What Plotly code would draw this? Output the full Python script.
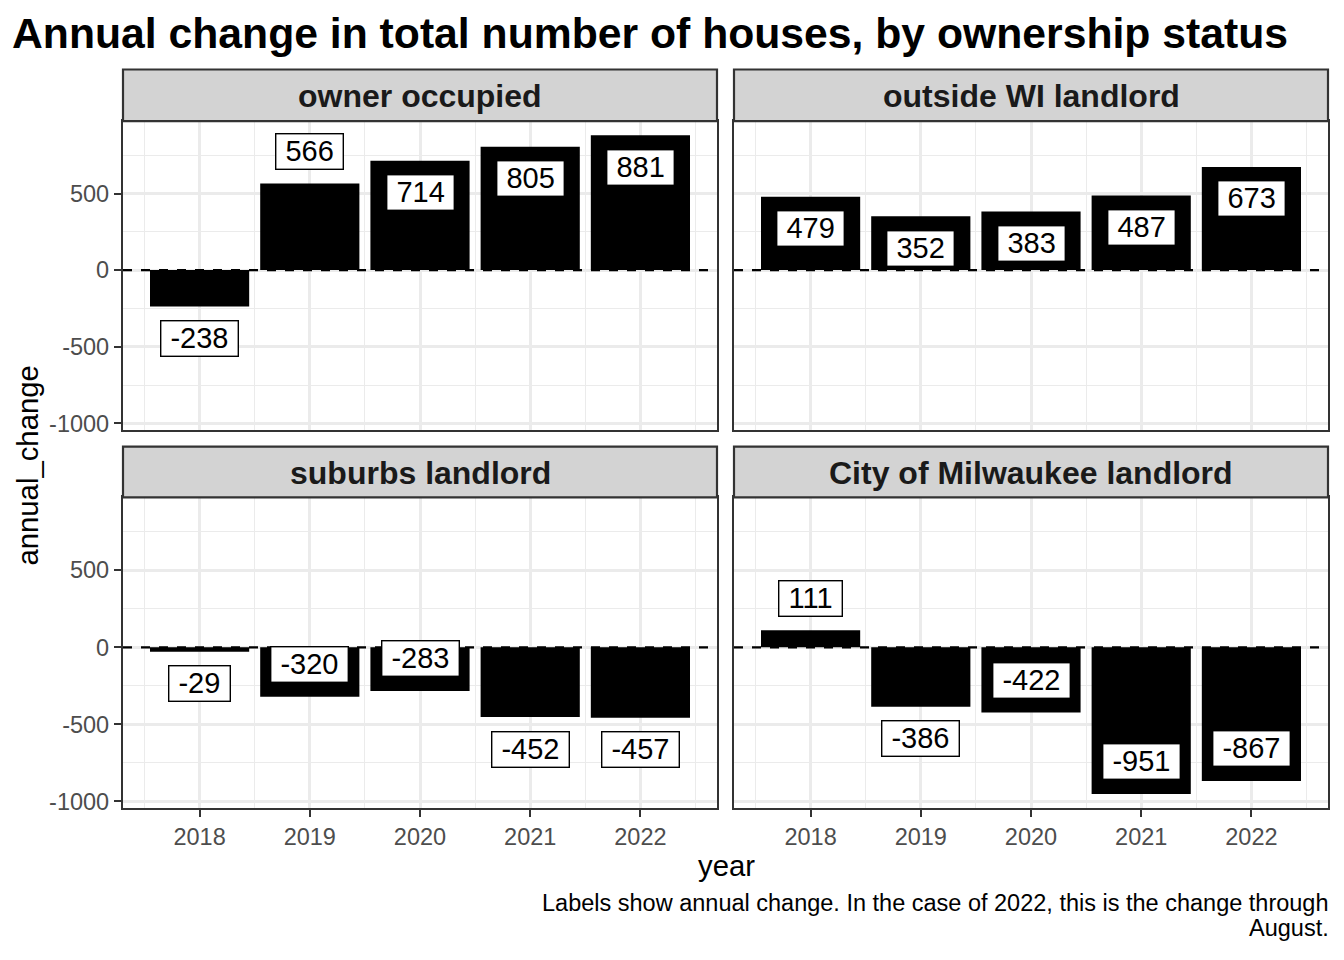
import plotly.graph_objects as go

years = [2018, 2019, 2020, 2021, 2022]
panels = ["owner occupied", "outside WI landlord", "suburbs landlord", "City of Milwaukee landlord"]
owner_occupied = [-238, 566, 714, 805, 881]
outside_wi = [479, 352, 383, 487, 673]
suburbs = [-29, -320, -283, -452, -457]
city_mke = [111, -386, -422, -951, -867]
y_tick_vals = [-1000, -500, 0, 500]
y_tick_text = ["-1000", "-500", "0", "500"]
# +1: label placed outside the bar (away from zero); -1: inside the bar
label_side_owner = [1, 1, -1, -1, -1]
label_side_outside = [-1, -1, -1, -1, -1]
label_side_suburbs = [1, -1, -1, 1, 1]
label_side_city = [1, 1, -1, -1, -1]

series = [owner_occupied, outside_wi, suburbs, city_mke]
sides = [label_side_owner, label_side_outside, label_side_suburbs, label_side_city]

W, H = 1344, 960
FONT = "Liberation Sans, Arial, Helvetica, sans-serif"

def px(x):
    return x / W

def py(y):
    return 1 - y / H

cols = [(123, 717), (734, 1328)]
rows = [(70, 122, 433), (450, 501, 814)]

fig = go.Figure()
annotations = []
shapes = []

xrange_ = [2017.305, 2022.695]
yrange_ = [-1042.6, 972.6]
offset = 208

for i, (name, vals, side) in enumerate(zip(panels, series, sides)):
    r, c = divmod(i, 2)
    x0, x1 = cols[c]
    st, pt, pb = rows[r]
    n = i + 1
    xa = "x" if n == 1 else f"x{n}"
    ya = "y" if n == 1 else f"y{n}"
    fig.add_trace(go.Bar(x=years, y=vals, width=0.9, marker=dict(color="black", line=dict(width=0)),
                         xaxis=xa, yaxis=ya, showlegend=False, hoverinfo="skip"))
    show_x = r == 1
    show_y = c == 0
    fig.layout[f"xaxis{'' if n == 1 else n}"] = dict(
        domain=[px(x0), px(x1)], anchor=ya, range=xrange_, tickvals=years, ticktext=[str(y) for y in years],
        showticklabels=show_x, ticks="outside" if show_x else "", ticklen=7, tickwidth=2.2, tickcolor="#333333",
        tickfont=dict(size=23.5, color="#4D4D4D", family=FONT),
        showgrid=True, gridcolor="#EBEBEB", gridwidth=2.6,
        minor=dict(dtick=0.5, tick0=2017.5, showgrid=True, gridcolor="#EBEBEB", gridwidth=1.3),
        showline=True, mirror=True, linecolor="#333333", linewidth=2.2, zeroline=False, fixedrange=True)
    fig.layout[f"yaxis{'' if n == 1 else n}"] = dict(
        domain=[py(pb), py(pt)], anchor=xa, range=yrange_, tickvals=y_tick_vals, ticktext=y_tick_text,
        showticklabels=show_y, ticks="outside" if show_y else "", ticklen=7, tickwidth=2.2, tickcolor="#333333",
        tickfont=dict(size=23.5, color="#4D4D4D", family=FONT),
        showgrid=True, gridcolor="#EBEBEB", gridwidth=2.6,
        minor=dict(dtick=250, showgrid=True, gridcolor="#EBEBEB", gridwidth=1.3),
        showline=True, mirror=True, linecolor="#333333", linewidth=2.2, zeroline=False, fixedrange=True)
    shapes.append(dict(type="rect", xref="paper", yref="paper", x0=px(x0), x1=px(x1), y0=py(pt), y1=py(st),
                       fillcolor="#D3D3D3", line=dict(color="#333333", width=2.2), layer="above"))
    annotations.append(dict(text=f"<b>{name}</b>", xref="paper", yref="paper", x=px((x0 + x1) / 2),
                            y=py((st + pt) / 2 + 1), showarrow=False, xanchor="center", yanchor="middle",
                            font=dict(size=32, color="#1A1A1A", family=FONT)))
    shapes.append(dict(type="line", xref=f"{xa} domain", yref=ya, x0=0, x1=1, y0=0, y1=0,
                       line=dict(color="black", width=2.2, dash="dash"), layer="above"))
    for yr, v, s in zip(years, vals, side):
        sign = 1 if v >= 0 else -1
        annotations.append(dict(text="\u00a0" + str(v) + "\u00a0", xref=xa, yref=ya, x=yr, y=v + s * sign * offset,
                                showarrow=False, xanchor="center", yanchor="middle",
                                font=dict(size=29, color="black", family=FONT),
                                bgcolor="white", bordercolor="black", borderwidth=1.4, borderpad=1))

annotations.append(dict(text="<b>Annual change in total number of houses, by ownership status</b>",
                        xref="paper", yref="paper", x=px(10), y=py(33), xanchor="left", yanchor="middle",
                        showarrow=False, font=dict(size=42.7, color="black", family=FONT)))
annotations.append(dict(text="annual_change", xref="paper", yref="paper", x=px(28), y=py(469),
                        textangle=-90, xanchor="center", yanchor="middle", showarrow=False,
                        font=dict(size=29.3, color="black", family=FONT)))
annotations.append(dict(text="year", xref="paper", yref="paper", x=px(726), y=py(872),
                        xanchor="center", yanchor="middle", showarrow=False,
                        font=dict(size=29.3, color="black", family=FONT)))
annotations.append(dict(text="Labels show annual change. In the case of 2022, this is the change through",
                        xref="paper", yref="paper", x=px(1331), y=py(910), xanchor="right", yanchor="middle",
                        align="right", showarrow=False,
                        font=dict(size=23.5, color="black", family=FONT)))
annotations.append(dict(text="August.",
                        xref="paper", yref="paper", x=px(1331), y=py(935), xanchor="right", yanchor="middle",
                        align="right", showarrow=False,
                        font=dict(size=23.5, color="black", family=FONT)))

fig.update_layout(width=W, height=H, margin=dict(l=0, r=0, t=0, b=0), paper_bgcolor="white",
                  plot_bgcolor="white", annotations=annotations, shapes=shapes, barmode="overlay",
                  font=dict(family=FONT))
fig.write_html("out.html")
